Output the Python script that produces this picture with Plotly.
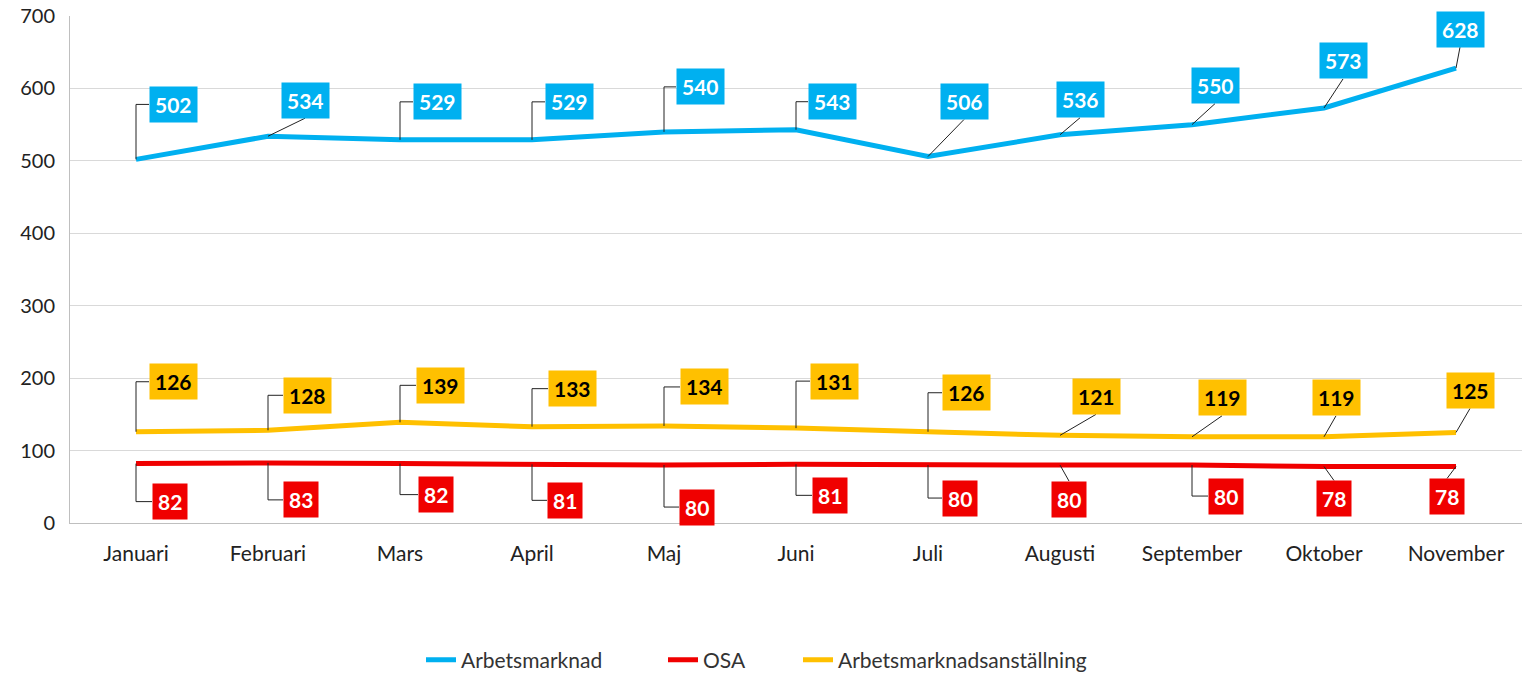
import plotly.graph_objects as go

months = ["Januari", "Februari", "Mars", "April", "Maj", "Juni", "Juli",
          "Augusti", "September", "Oktober", "November"]
arbetsmarknad = [502, 534, 529, 529, 540, 543, 506, 536, 550, 573, 628]
osa = [82, 83, 82, 81, 80, 81, 80, 80, 80, 78, 78]
anstallning = [126, 128, 139, 133, 134, 131, 126, 121, 119, 119, 125]

# label offsets (screen pixels, y down) from each point, and leader style
blue_off = [(37, -55), (37, -36), (37, -38), (37, -38), (36, -45), (36, -28),
            (36, -55), (20, -35), (23, -39), (19, -47), (4, -39)]
blue_lead = "edeeeeddddd"
yellow_off = [(37, -50), (39, -35), (40, -37), (40, -38), (40, -39), (38, -47),
              (38, -39), (36, -39), (30, -39), (12, -39), (14, -42)]
yellow_lead = "eeeeeeedddd"
red_off = [(34, 38), (33, 37), (36, 31), (33, 36), (33, 42), (34, 31),
           (32, 33), (9, 34), (34, 31), (10, 32), (-9, 30)]
red_lead = "eeeeeeededd"

BLUE = "#00B0F0"
RED = "#F00000"
YELLOW = "#FFC000"
FONT = "Lato, 'Open Sans', sans-serif"

fig = go.Figure()
series = [
    ("Arbetsmarknad", arbetsmarknad, BLUE, "legend", 421),
    ("OSA", osa, RED, "legend2", 663),
    ("Arbetsmarknadsanställning", anstallning, YELLOW, "legend3", 798),
]
legend_layout = {}
for name, vals, col, lg, lx in series:
    fig.add_trace(go.Scatter(x=months, y=vals, name=name, mode="lines", legend=lg,
                             line=dict(color=col, width=5), hoverinfo="skip"))
    legend_layout[lg] = dict(orientation="h", xref="container", x=lx / 1524,
                             xanchor="left", yref="container", y=(674 - 660) / 674,
                             yanchor="middle", bgcolor="rgba(0,0,0,0)",
                             font=dict(size=21, color="#333333"))

annotations = []
shapes = []
HH = 18  # half label height (px)
for vals, offs, leads, bg, fc in [(arbetsmarknad, blue_off, blue_lead, BLUE, "white"),
                                  (anstallning, yellow_off, yellow_lead, YELLOW, "black"),
                                  (osa, red_off, red_lead, RED, "white")]:
    for m, v, (ax, ay), ld in zip(months, vals, offs, leads):
        hw = 24 if v >= 100 else 18
        cy = -ay  # up-positive centre offset
        if ld == "e":
            path = f"M 0,0 L 0,{cy} L {ax - hw},{cy}"
        else:
            ey = cy - HH if cy > 0 else cy + HH
            path = f"M 0,0 L {ax},{ey}"
        shapes.append(dict(type="path", xref="x", yref="y", xsizemode="pixel",
                           ysizemode="pixel", xanchor=m, yanchor=v, path=path,
                           line=dict(color="#222222", width=1), layer="above"))
        annotations.append(dict(
            x=m, y=v, xref="x", yref="y", text=f"<b>{v}</b>",
            showarrow=False, xshift=ax, yshift=cy, bgcolor=bg, borderpad=5,
            font=dict(family=FONT, size=21, color=fc)))

fig.update_layout(
    width=1524, height=674,
    margin=dict(l=70, r=2, t=16, b=151),
    paper_bgcolor="white", plot_bgcolor="white",
    font=dict(family=FONT, color="#222222"),
    showlegend=True,
    annotations=annotations,
    shapes=shapes,
    xaxis=dict(type="category", range=[-0.5, 10.5], showgrid=False, automargin=False,
               showline=True, linecolor="#BFBFBF", linewidth=1, ticklabelstandoff=12,
               ticks="", tickfont=dict(size=21, color="#222222"), fixedrange=True),
    yaxis=dict(range=[0, 700], dtick=100, showgrid=True, gridcolor="#D9D9D9",
               gridwidth=1, showline=True, linecolor="#BFBFBF", zeroline=False,
               automargin=False, ticklabeloverflow="allow",
               ticks="", tickfont=dict(size=20, color="#222222"), ticklabelstandoff=10),
    **legend_layout,
)

# the page's default 8px body margin would shift the chart; remove it
fig.write_html("out.html", config={"displayModeBar": False},
               post_script="document.body.style.margin='0px';")
